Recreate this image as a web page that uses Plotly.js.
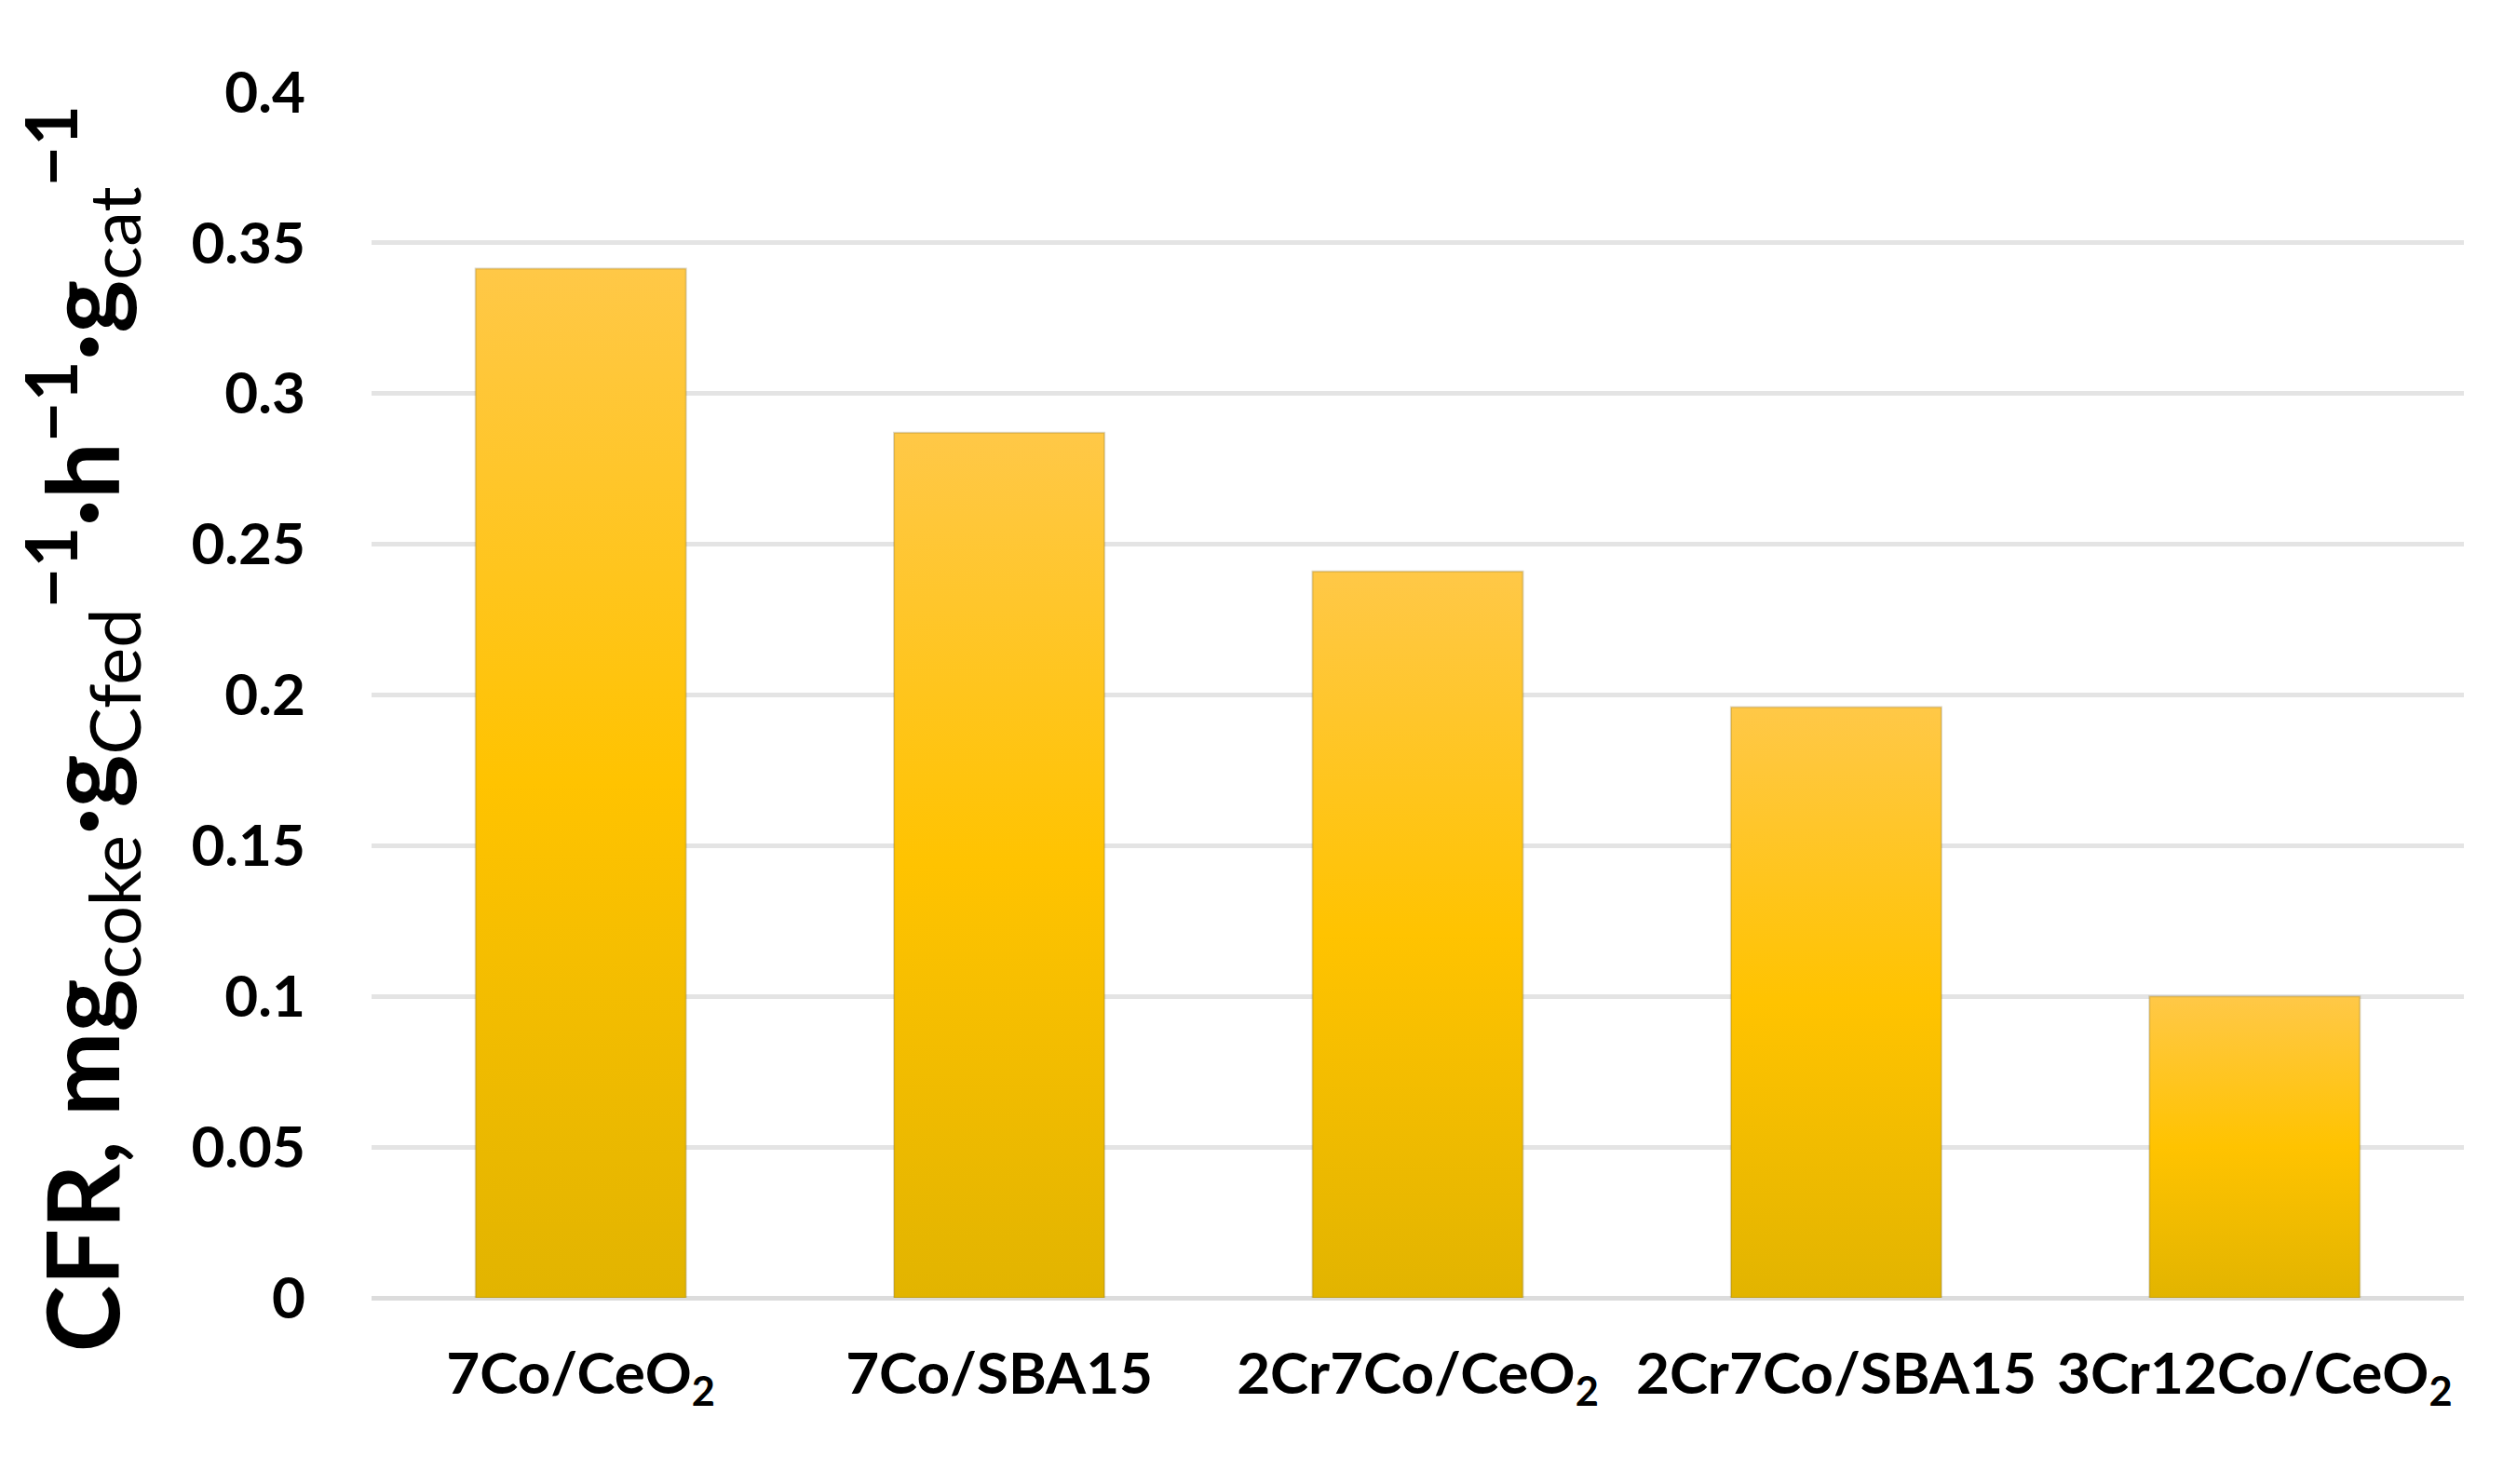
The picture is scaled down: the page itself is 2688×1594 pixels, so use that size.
<!DOCTYPE html>
<html>
<head>
<meta charset="utf-8">
<script src="https://cdn.plot.ly/plotly-3.0.1.min.js"></script>
<style>
html,body{margin:0;padding:0;background:#fff;}
#chart{width:2688px;height:1594px;}
</style>
</head>
<body>
<div id="chart"></div>
<script>
// ---- data ----
const categories = [
  '7Co/CeO<sub>2</sub>',
  '7Co/SBA15',
  '2Cr7Co/CeO<sub>2</sub>',
  '2Cr7Co/SBA15',
  '3Cr12Co/CeO<sub>2</sub>'
];
const cfrValues = [0.3415, 0.287, 0.241, 0.196, 0.100];
const yTickVals = [0, 0.05, 0.1, 0.15, 0.2, 0.25, 0.3, 0.35, 0.4];
const yTickText = ['0', '0.05', '0.1', '0.15', '0.2', '0.25', '0.3', '0.35', '0.4'];
const yTitle = '<b>CFR, mg</b><sub>coke</sub><b>·g</b><sub>Cfed</sub><sup><b>−1</b></sup><b>·h</b><sup><b>−1</b></sup><b>·g</b><sub>cat</sub><sup><b>−1</b></sup>';

const FONT = 'Lato, "Open Sans", sans-serif';

const trace = {
  type: 'bar',
  x: categories,
  y: cfrValues,
  marker: { color: '#FFC000', line: { width: 0 } },
  hoverinfo: 'x+y'
};

const layout = {
  width: 2688,
  height: 1594,
  margin: { l: 399, r: 42, t: 99, b: 200 },
  paper_bgcolor: '#ffffff',
  plot_bgcolor: '#ffffff',
  showlegend: false,
  bargap: 0.497,
  font: { family: FONT, color: '#000000' },
  xaxis: {
    type: 'category',
    showgrid: false,
    showline: false,
    zeroline: false,
    ticks: '',
    ticklabelstandoff: 40,
    tickfont: { family: FONT, size: 62, color: '#000000', weight: 'bold' }
  },
  yaxis: {
    range: [0, 0.4],
    tickvals: yTickVals,
    ticktext: yTickText,
    showgrid: true,
    gridcolor: '#E4E4E4',
    gridwidth: 5,
    zeroline: true,
    zerolinecolor: '#DCDCDC',
    zerolinewidth: 5,
    showline: false,
    ticks: '',
    ticklabelstandoff: 70,
    tickfont: { family: FONT, size: 62, color: '#000000', weight: 'bold' }
  },
  annotations: [{
    text: yTitle,
    xref: 'paper', yref: 'paper',
    x: -0.1385, y: 0.472,
    xanchor: 'center', yanchor: 'middle',
    textangle: -90,
    showarrow: false,
    font: { family: FONT, size: 108, color: '#000000' }
  }]
};

Plotly.newPlot('chart', [trace], layout, { displayModeBar: false, staticPlot: true }).then(function (gd) {
  const svg = gd.querySelector('svg.main-svg');
  const NS = 'http://www.w3.org/2000/svg';
  let defs = svg.querySelector('defs');
  if (!defs) { defs = document.createElementNS(NS, 'defs'); svg.insertBefore(defs, svg.firstChild); }
  const grad = document.createElementNS(NS, 'linearGradient');
  grad.setAttribute('id', 'barGrad');
  grad.setAttribute('x1', '0'); grad.setAttribute('y1', '0');
  grad.setAttribute('x2', '0'); grad.setAttribute('y2', '1');
  [['0', '#FFC847'], ['0.5', '#FFC300'], ['1', '#E2B400']].forEach(function (s) {
    const st = document.createElementNS(NS, 'stop');
    st.setAttribute('offset', s[0]);
    st.setAttribute('stop-color', s[1]);
    grad.appendChild(st);
  });
  defs.appendChild(grad);
  gd.querySelectorAll('.bars .point path').forEach(function (p) {
    p.style.fill = 'url(#barGrad)';
    p.style.stroke = 'rgba(120,100,40,0.25)';
    p.style.strokeWidth = '2px';
  });
});
</script>
</body>
</html>
